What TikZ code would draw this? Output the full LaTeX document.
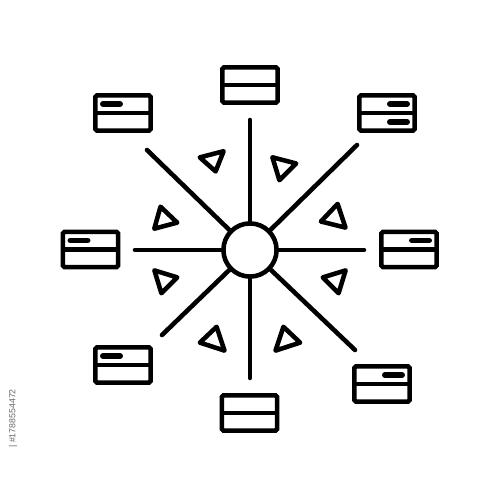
\documentclass[tikz,border=0pt]{standalone}
\usepackage{fontspec}
\setmainfont{Liberation Sans}
\usetikzlibrary{calc}
\begin{document}
\begin{tikzpicture}[x=0.02cm,y=-0.02cm,
  lw/.style={line width=2.6pt},
  box/.style={draw,lw,rounded corners=1pt,minimum width=1.108cm,minimum height=0.708cm,inner sep=0pt,outer sep=0pt},
  hub/.style={draw,lw,circle,minimum size=1.064cm,inner sep=0pt,outer sep=0pt},
  spoke/.style={lw,line cap=round},
  bar/.style={line width=3.4pt,line cap=round},
  tri/.style={lw,line join=round}]
\useasboundingbox (0,0) rectangle (500,500);

% hub
\node[hub] (hub) at (250,250) {};

% boxes
\node[box] (bT)  at (250,85) {};
\node[box] (bTL) at (123,113) {};
\node[box] (bTR) at (387,113) {};
\node[box] (bL)  at (90.5,249.5) {};
\node[box] (bR)  at (409,249.5) {};
\node[box] (bBL) at (123,365) {};
\node[box] (bBR) at (382,384) {};
\node[box] (bB)  at (249.5,413) {};

\foreach \b in {bT,bTL,bTR,bL,bR,bBL,bBR,bB}{
  \draw[lw] (\b.west) -- (\b.east);
}
% bars
\draw[bar] ($(bTL.center)+(-20,-9)$) -- ($(bTL.center)+(-3,-9)$);
\draw[bar] ($(bTR.center)+(3,-9)$) -- ($(bTR.center)+(20,-9)$);
\draw[bar] ($(bTR.center)+(3,9)$) -- ($(bTR.center)+(20,9)$);
\draw[bar] ($(bL.center)+(-20,-9)$) -- ($(bL.center)+(-3,-9)$);
\draw[bar] ($(bR.center)+(3,-9)$) -- ($(bR.center)+(20,-9)$);
\draw[bar] ($(bBL.center)+(-20,-9)$) -- ($(bBL.center)+(-3,-9)$);
\draw[bar] ($(bBR.center)+(3,-9)$) -- ($(bBR.center)+(20,-9)$);

% spoke ends
\coordinate (sT) at (250,120);
\coordinate (sB) at (250,378);
\coordinate (sL) at (135,250);
\coordinate (sR) at (364,250);
\coordinate (sTL) at (147,150);
\coordinate (sTR) at (357,145);
\coordinate (sBL) at (162,335);
\coordinate (sBR) at (355,350);
\foreach \s in {sT,sB,sL,sR,sTL,sTR,sBL,sBR}{
  \draw[spoke] (\s) -- (hub);
}

% triangles
\draw[tri] (199.8,157.4) -- (223.6,151.2) -- (215.6,171.4) -- cycle;
\draw[tri] (272.4,157.3) -- (296.2,163.5) -- (279.4,180.2) -- cycle;
\draw[tri] (337.6,203.9) -- (345.5,227.6) -- (320.9,221.5) -- cycle;
\draw[tri] (160.5,206.7) -- (177.2,222.6) -- (154.3,228.7) -- cycle;
\draw[tri] (154.4,270.4) -- (177.2,277.4) -- (161.4,293.2) -- cycle;
\draw[tri] (216.6,326.8) -- (224.5,350.6) -- (199.9,342.6) -- cycle;
\draw[tri] (345.6,270.4) -- (322.8,277.4) -- (338.6,293.2) -- cycle;
\draw[tri] (283.4,326.8) -- (275.5,350.6) -- (300.1,342.6) -- cycle;

% stock id
\node[rotate=90,anchor=west,text=black!60,font=\fontsize{5}{6}\selectfont,inner sep=0pt] (wm) at (13,448) {| \#1788554472};
\end{tikzpicture}
\end{document}
